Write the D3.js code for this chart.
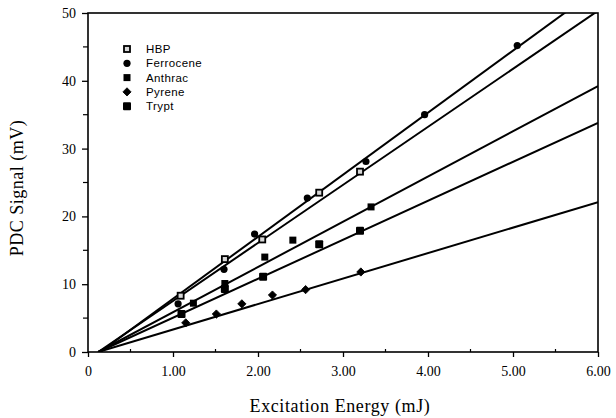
<!DOCTYPE html>
<html>
<head>
<meta charset="utf-8">
<script src="https://d3js.org/d3.v7.min.js"></script>
<style>
  body { margin: 0; background: #fff; }
  .tick text, .axis-title { font-family: "Liberation Serif", "DejaVu Serif", serif; fill: #000; }
  .legend text { font-family: "Liberation Sans", Arial, sans-serif; font-size: 11.5px; letter-spacing: 0.4px; }
</style>
</head>
<body>
<svg id="chart" width="616" height="418"></svg>
<script>
// series names, as in the legend
var seriesNames = ["HBP", "Ferrocene", "Anthrac", "Pyrene", "Trypt"];

var hbpX = [1.09, 1.61, 2.05, 2.72, 3.20];
var hbpY = [8.3, 13.7, 16.6, 23.5, 26.6];
var ferroX = [1.06, 1.60, 1.96, 2.58, 3.27, 3.96, 5.05];
var ferroY = [7.1, 12.2, 17.4, 22.7, 28.1, 35.0, 45.2];
var anthX = [1.24, 1.61, 2.08, 2.41, 3.33];
var anthY = [7.2, 10.1, 14.0, 16.5, 21.4];
var pyrX = [1.15, 1.51, 1.81, 2.17, 2.56, 3.21];
var pyrY = [4.3, 5.6, 7.1, 8.4, 9.2, 11.8];
var trypX = [1.10, 1.61, 2.06, 2.72, 3.20];
var trypY = [5.6, 9.3, 11.1, 15.9, 17.9];

// fitted lines: signal = slope * energy + intercept
var fitSlope = [8.56, 9.15, 6.67, 3.76, 5.75];
var fitIntercept = [-1.03, -1.3, -0.8, -0.45, -0.7];

var xTicks = [0, 1, 2, 3, 4, 5, 6];
var yTicks = [0, 10, 20, 30, 40, 50];

var svg = d3.select("#chart");
var pLeft = 88, pRight = 598, pTop = 13, pBottom = 352;

var x = d3.scaleLinear().domain([0, 6]).range([pLeft, pRight]);
var y = d3.scaleLinear().domain([0, 50]).range([pBottom, pTop]);

svg.append("rect").attr("width", 616).attr("height", 418).attr("fill", "#fff");

// clip for fit lines
svg.append("clipPath").attr("id", "plotclip")
  .append("rect").attr("x", pLeft).attr("y", pTop).attr("width", pRight - pLeft).attr("height", pBottom - pTop);

// x axis
var xAxis = d3.axisBottom(x).tickValues(xTicks).tickSize(5).tickPadding(9)
  .tickFormat(function(d) { return d === 0 ? "0" : d3.format(".2f")(d); });
var gx = svg.append("g").attr("transform", "translate(0," + pBottom + ")").call(xAxis);
gx.select(".domain").remove();
gx.selectAll(".tick text").style("font-size", "14px");
gx.selectAll(".tick line").attr("stroke-width", 1.3);
// minor x ticks (inside)
svg.append("g").selectAll("line")
  .data(d3.range(0.5, 6, 1))
  .enter().append("line")
    .attr("x1", function(d) { return x(d); }).attr("x2", function(d) { return x(d); })
    .attr("y1", pBottom).attr("y2", pBottom - 3)
    .attr("stroke", "#000").attr("stroke-width", 1.2);

// y axis
var yAxis = d3.axisLeft(y).tickValues(yTicks).tickSize(6).tickPadding(6);
var gy = svg.append("g").attr("transform", "translate(" + pLeft + ",0)").call(yAxis);
gy.select(".domain").remove();
gy.selectAll(".tick text").style("font-size", "14px");
gy.selectAll(".tick line").attr("stroke-width", 1.3);
svg.append("g").selectAll("line")
  .data(d3.range(5, 50, 10))
  .enter().append("line")
    .attr("x1", pLeft).attr("x2", pLeft - 5)
    .attr("y1", function(d) { return y(d); }).attr("y2", function(d) { return y(d); })
    .attr("stroke", "#000").attr("stroke-width", 1.2);

// frame
svg.append("rect")
  .attr("x", pLeft).attr("y", pTop).attr("width", pRight - pLeft).attr("height", pBottom - pTop)
  .attr("fill", "none").attr("stroke", "#000").attr("stroke-width", 1.6);

// axis titles
svg.append("text").attr("class", "axis-title")
  .attr("x", 340).attr("y", 412)
  .attr("text-anchor", "middle").style("font-size", "18px").style("letter-spacing", "0.6px")
  .text("Excitation Energy (mJ)");
svg.append("text").attr("class", "axis-title")
  .attr("transform", "translate(23,188) rotate(-90)")
  .attr("text-anchor", "middle").style("font-size", "18px").style("letter-spacing", "0.5px")
  .text("PDC Signal (mV)");

// fit lines
var fitG = svg.append("g").attr("clip-path", "url(#plotclip)");
seriesNames.forEach(function(name, i) {
  var m = fitSlope[i], b = fitIntercept[i];
  var x0 = -b / m;
  fitG.append("line")
    .attr("x1", x(x0)).attr("y1", y(0))
    .attr("x2", x(6)).attr("y2", y(m * 6 + b))
    .attr("stroke", "#000").attr("stroke-width", 2);
});

// markers
function drawMarker(g, kind, cx, cy) {
  if (kind === "HBP") {
    g.append("rect").attr("x", cx - 3).attr("y", cy - 3).attr("width", 6).attr("height", 6)
      .attr("fill", "#d8d8d8").attr("stroke", "#000").attr("stroke-width", 1.8);
  } else if (kind === "Ferrocene") {
    g.append("circle").attr("cx", cx).attr("cy", cy).attr("r", 3.6).attr("fill", "#000");
  } else if (kind === "Anthrac") {
    g.append("rect").attr("x", cx - 3.5).attr("y", cy - 3.5).attr("width", 7).attr("height", 7).attr("fill", "#000");
  } else if (kind === "Pyrene") {
    g.append("path").attr("d", d3.symbol().type(d3.symbolSquare).size(34)())
      .attr("transform", "translate(" + cx + "," + cy + ") rotate(45)")
      .attr("fill", "#000").attr("stroke", "#000").attr("stroke-width", 0.8).attr("stroke-linejoin", "round");
  } else {
    g.append("rect").attr("x", cx - 4).attr("y", cy - 4).attr("width", 8).attr("height", 8)
      .attr("rx", 1).attr("fill", "#000");
  }
}

var pts = [[hbpX, hbpY], [ferroX, ferroY], [anthX, anthY], [pyrX, pyrY], [trypX, trypY]];
var markG = svg.append("g");
seriesNames.forEach(function(name, i) {
  pts[i][0].forEach(function(e, j) {
    drawMarker(markG, name, x(e), y(pts[i][1][j]));
  });
});

// legend
var legend = svg.append("g").attr("class", "legend");
seriesNames.forEach(function(name, i) {
  var ly = 49 + i * 14.3;
  drawMarker(legend, name, 127, ly);
  legend.append("text").attr("x", 146).attr("y", ly + 4).text(name);
});
</script>
</body>
</html>
